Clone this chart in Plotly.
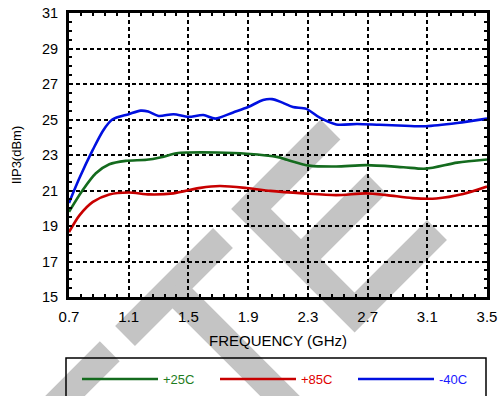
import math
import plotly.graph_objects as go

# ==================== DATA ====================
freq_25 = [0.70, 0.79, 0.88, 0.97, 1.08, 1.22, 1.31, 1.42, 1.50, 1.69, 1.89, 2.10,
           2.16, 2.31, 2.49, 2.69, 2.94, 3.09, 3.30, 3.50]
iip3_25 = [19.8, 21.0, 21.97, 22.48, 22.67, 22.73, 22.86, 23.1, 23.14, 23.14, 23.07, 22.88,
           22.73, 22.4, 22.35, 22.43, 22.31, 22.23, 22.57, 22.75]

freq_85 = [0.70, 0.77, 0.86, 0.97, 1.10, 1.24, 1.40, 1.58, 1.71, 1.89, 2.05, 2.27,
           2.49, 2.69, 2.83, 3.00, 3.16, 3.34, 3.50]
iip3_85 = [18.65, 19.6, 20.36, 20.78, 20.89, 20.78, 20.84, 21.15, 21.25, 21.14, 20.98, 20.84,
           20.74, 20.84, 20.74, 20.57, 20.55, 20.8, 21.22]

freq_m40 = [0.70, 0.77, 0.86, 0.93, 0.99, 1.10, 1.18, 1.23, 1.30, 1.40, 1.50, 1.60, 1.68,
            1.80, 1.90, 2.00, 2.06, 2.13, 2.20, 2.29, 2.38, 2.49, 2.63, 2.78, 2.95, 3.09,
            3.30, 3.50]
iip3_m40 = [20.3, 21.7, 23.3, 24.4, 25.0, 25.3, 25.5, 25.45, 25.2, 25.3, 25.15, 25.25, 25.05,
            25.4, 25.7, 26.1, 26.15, 25.95, 25.7, 25.6, 25.1, 24.72, 24.75, 24.7, 24.65, 24.62,
            24.8, 25.05]

x_ticks = [0.7, 1.1, 1.5, 1.9, 2.3, 2.7, 3.1, 3.5]
y_ticks = [15, 17, 19, 21, 23, 25, 27, 29, 31]

# ==================== LAYOUT CONSTANTS ====================
# body margin is zeroed after plotting (post_script), so figure = page pixels
W, H = 502, 396
PX0, PX1, PY0, PY1 = 69, 487, 13, 297   # plot area on the page
ML, MT = PX0, PY0
MR = W - PX1
MB = H - PY1


def to_paper(px, py):
    return (px - PX0) / (PX1 - PX0), (PY1 - py) / (PY1 - PY0)


# watermark bands, in pixel space rotated 45 deg (p = x+y, q = x-y)
BAND_W = 28
hw = BAND_W / math.sqrt(2)
bands = [
    ('u', 461, -420, -241.5),
    ('u', 461, -211, -15),
    ('d', -116, 461, 820),
    ('d', 42, 440, 687),
    ('u', 460, 40, 201),
    ('u', 560, 40, 193),
    ('u', 667, 40, 207),
]


def band_path(kind, c, a, b):
    if kind == 'u':
        pq = [(c - hw, a), (c + hw, a), (c + hw, b), (c - hw, b)]
    else:
        pq = [(a, c - hw), (a, c + hw), (b, c + hw), (b, c - hw)]
    pts = [to_paper((p + q) / 2, (p - q) / 2) for p, q in pq]
    return 'M ' + ' L '.join(f'{x:.4f},{y:.4f}' for x, y in pts) + ' Z'


shapes = [dict(type='path', path=band_path(*bd), xref='paper', yref='paper',
               fillcolor='#c4c4c4', line=dict(width=0), layer='below') for bd in bands]

# legend frame (bottom edge runs off the page like in the source)
lx0, ly0 = to_paper(66, 358)
lx1, ly1 = to_paper(486, 410)
shapes.append(dict(type='rect', xref='paper', yref='paper', x0=lx0, y0=ly1, x1=lx1, y1=ly0,
                   line=dict(color='black', width=1.5), fillcolor='rgba(0,0,0,0)', layer='above'))

# ==================== FIGURE ====================
fig = go.Figure()

series = [
    ('+25C', freq_25, iip3_25, '#146b1e', '#1e7d1e'),
    ('+85C', freq_85, iip3_85, '#c80000', '#e00000'),
    ('-40C', freq_m40, iip3_m40, '#0010e0', '#1a1aff'),
]
for name, xs, ys, col, txtcol in series:
    fig.add_trace(go.Scatter(
        x=xs, y=ys, mode='lines', line=dict(color=col, width=2.6, shape='spline', smoothing=0.8),
        name=f'<span style="color:{txtcol}">{name}</span>'
    ))

axis_common = dict(
    showline=True, linecolor='black', linewidth=3, mirror='allticks',
    showgrid=True, gridcolor='black', gridwidth=1.8, griddash='4px,3px',
    ticks='inside', ticklen=3, tickwidth=2, tickcolor='black',
    zeroline=False, ticklabeloverflow='allow',
)

lgx, lgy = to_paper(77, 379)
fig.update_layout(
    width=W, height=H,
    margin=dict(l=ML, r=MR, t=MT, b=MB, autoexpand=False),
    paper_bgcolor='white', plot_bgcolor='rgba(0,0,0,0)',
    font=dict(family='Liberation Sans, Arial, sans-serif', size=13, color='black'),
    xaxis=dict(range=[0.7, 3.5], tickvals=x_ticks, ticktext=[f'{v:.1f}' for v in x_ticks],
               ticklabelstandoff=4, tickfont=dict(size=15, color='black'),
               title=dict(text='FREQUENCY (GHz)', font=dict(size=15), standoff=12),
               minor=dict(tick0=0.7, dtick=0.08, ticks='inside', ticklen=3, tickwidth=2,
                          tickcolor='black', showgrid=False),
               **axis_common),
    yaxis=dict(range=[15, 31], tickvals=y_ticks, ticklabelstandoff=5,
               tickfont=dict(size=14.5, color='black'),
               title=dict(text='IIP3(dBm)', font=dict(size=13), standoff=18),
               minor=dict(tick0=15, dtick=0.5, ticks='inside', ticklen=3, tickwidth=2,
                          tickcolor='black', showgrid=False),
               **axis_common),
    showlegend=True,
    legend=dict(orientation='h', x=lgx, y=lgy, xanchor='left', yanchor='middle',
                entrywidth=47, entrywidthmode='pixels', itemwidth=76,
                bgcolor='rgba(0,0,0,0)', borderwidth=0, font=dict(size=13)),
    shapes=shapes,
)

fig.write_html('out.html', config={'displayModeBar': False},
               post_script="document.body.style.margin='0';"
                           "document.body.style.overflow='hidden';")
